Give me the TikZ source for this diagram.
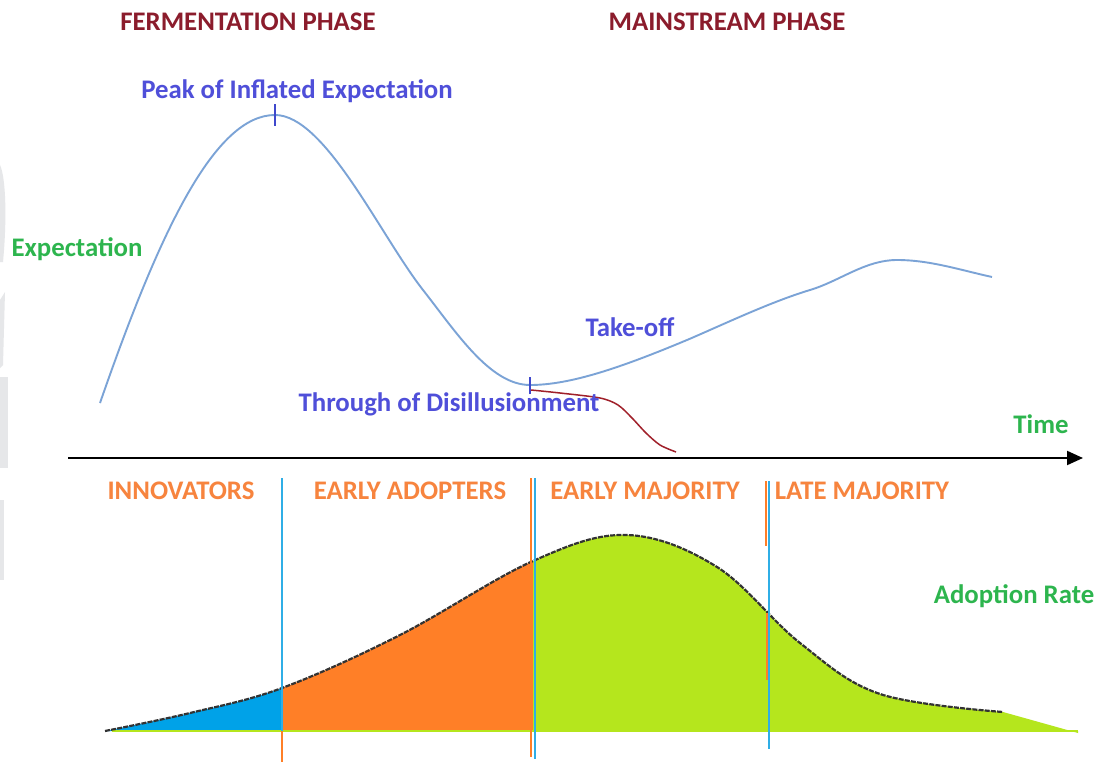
\documentclass[tikz,border=0pt]{standalone}
\usepackage{fontspec}
\setmainfont{Carlito}
\usetikzlibrary{arrows.meta}
\definecolor{phasered}{HTML}{8B1C2C}
\definecolor{hypeblue}{HTML}{4F4FD9}
\definecolor{labelgreen}{HTML}{2DB54E}
\definecolor{groupor}{HTML}{F7843E}
\definecolor{curveblue}{HTML}{7BA3D6}
\definecolor{tickblue}{HTML}{3F48CC}
\definecolor{fillblue}{HTML}{00A2E8}
\definecolor{fillorange}{HTML}{FF7F27}
\definecolor{fillgreen}{HTML}{B5E61D}
\definecolor{divcyan}{HTML}{2FAEE6}
\definecolor{dropred}{HTML}{A0202A}
\definecolor{edgegray}{HTML}{E6E7E9}
\tikzset{
  lbl/.style={font=\bfseries\fontsize{26.8}{28}\selectfont, inner sep=0pt, anchor=center},
  phaselbl/.style={lbl, text=phasered},
  hypelbl/.style={lbl, text=hypeblue},
  axislbl/.style={lbl, text=labelgreen},
  grouplbl/.style={lbl, text=groupor},
  divline/.style={draw=divcyan, line width=1.6pt},
  divor/.style={draw=fillorange, line width=1.6pt},
}
\begin{document}
\begin{tikzpicture}[x=1pt, y=-1pt]
\useasboundingbox (0,0) rectangle (1100,762);
\fill[white] (0,0) rectangle (1100,762);

% faint shapes along the left edge
\fill[edgegray] (0,165) .. controls (6,178) and (7,220) .. (3,262) -- (0,262) -- cycle;
\fill[edgegray] (0,300) -- (5,292) -- (3,365) -- (0,368) -- cycle;
\fill[edgegray] (0,377) -- (8,377) -- (8,468) -- (0,468) -- cycle;
\fill[edgegray] (0,500) -- (4,500) -- (4,580) -- (0,580) -- cycle;

% phase headings
\node[phaselbl] (ferm) at (248,22) {FERMENTATION PHASE};
\node[phaselbl] (main) at (727,22) {MAINSTREAM PHASE};

% hype curve
\draw[curveblue, line width=1.9pt]
  (100,403) .. controls (160,230) and (215,115) .. (275,115)
  .. controls (325,115) and (380,235) .. (423,290)
  .. controls (456,332) and (490,385) .. (530,385)
  .. controls (570,385) and (620,368) .. (687,340)
  .. controls (720,326) and (770,302) .. (810,290)
  .. controls (840,281) and (865,260) .. (897,260)
  .. controls (930,260) and (960,270) .. (992,277);
\coordinate (peak) at (275,115);
\coordinate (trough) at (530,385);
\draw[tickblue, line width=1.4pt] ([yshift=-11pt]peak) -- ([yshift=11pt]peak);
\draw[tickblue, line width=1.4pt] ([yshift=-9pt]trough) -- ([yshift=8pt]trough);

% falling branch below the trough
\draw[dropred, line width=1.5pt] plot[smooth, tension=0.5] coordinates {
  (531,390) (560,393) (600,398) (618,405) (632,418) (646,433) (660,445) (676,452)};

% hype labels
\node[hypelbl] (peaklbl) at (297,91) {Peak of Inflated Expectation};
\node[hypelbl] (takeoff) at (630,327) {Take-off};
\node[hypelbl] (troughlbl) at (449,404) {Through of Disillusionment};
\node[axislbl] (expect) at (77,249) {Expectation};
\node[axislbl] (time) at (1041,424) {Time};
\node[axislbl] (adopt) at (1014,596) {Adoption Rate};

% time axis
\coordinate (axisL) at (68,458);
\coordinate (axisR) at (1083,458);
\draw[black, line width=2pt, -{Triangle[length=16pt, width=14pt]}] (axisL) -- (axisR);

% adoption bell curve
\def\bellpath{plot[smooth, tension=0.6] coordinates {
  (105,731) (190,713) (282,688) (400,635) (533,561) (627,535)
  (717,567) (800,643) (880,694) (1003,712)}}
\begin{scope}
  \clip \bellpath -- (1078,733) -- (1078,731) -- (105,731) -- cycle;
  \fill[fillblue] (100,500) rectangle (283,740);
  \fill[fillorange] (283,500) rectangle (533,740);
  \fill[fillgreen] (533,500) rectangle (1090,740);
\end{scope}
\draw[fillgreen, line width=1.6pt] (112,731) -- (1078,731);
\draw[black!80, line width=2.2pt, dash pattern=on 5pt off 1.2pt] \bellpath;

% group dividers
\draw[divline] (282,478) -- (282,731);
\draw[divor] (282,731) -- (282,762);
\draw[divor] (531,478) -- (531,757);
\draw[divline] (535,478) -- (535,759);
\draw[divor] (766,481) -- (766,546);
\draw[divor] (767,613) -- (767,680);
\draw[divline] (769,481) -- (769,749);

% group labels
\node[grouplbl] (innov) at (181,491) {INNOVATORS};
\node[grouplbl] (early) at (410,491) {EARLY ADOPTERS};
\node[grouplbl] (earlymaj) at (645,491) {EARLY MAJORITY};
\node[grouplbl] (latemaj) at (862,491) {LATE MAJORITY};
\end{tikzpicture}
\end{document}
